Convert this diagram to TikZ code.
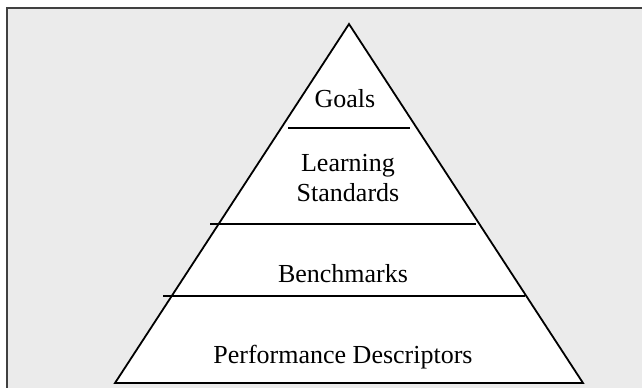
\documentclass[tikz,border=0pt]{standalone}
\usepackage{fontspec}
\setmainfont{Liberation Serif}
\usepackage{tikz}

\begin{document}
\begin{tikzpicture}[x=0.5pt, y=-0.5pt,
  frame/.style={draw=black!75, line width=1pt, fill=black!8},
  %
  pyramid/.style={draw=black, line width=0.9pt, fill=white, line join=miter},
  %
  tier/.style={draw=black, line width=0.9pt},
  %
  label/.style={font=\fontsize{13pt}{15pt}\selectfont, inner sep=0pt,
    align=center, anchor=base}
  ]

  \useasboundingbox (0,0) rectangle (642,387);

  \begin{scope}
    \draw [frame] (7,8) rectangle (660,400);
  \end{scope}

  %%%%%%%%%%%%%%%%%%%%%%%%%%%%%%%
  \coordinate (apex) at (349,24);
  \coordinate (baseL) at (115,383);
  \coordinate (baseR) at (583,383);
  \draw [pyramid] (apex) -- (baseR) -- (baseL) -- cycle;

  %%%%%%%%%%%%%%%%%%%%%%%%%%%%%%%
  \coordinate (goalsL) at (288,128);
  \coordinate (goalsR) at (410,128);
  \coordinate (stdL) at (210,224);
  \coordinate (stdR) at (476,224);
  \coordinate (benchL) at (163,296);
  \coordinate (benchR) at (525,296);

  \begin{scope}
    \draw [tier] (goalsL) -- (goalsR);
    \draw [tier] (stdL) -- (stdR);
    \draw [tier] (benchL) -- (benchR);
  \end{scope}

  %%%%%%%%%%%%%%%%%%%%%%%%%%%%%%%
  \node [label] (goals) at (345,107) {Goals};
  \node [label, anchor=center] (standards) at (348,178) {Learning\\Standards};
  \node [label] (benchmarks) at (343,282) {Benchmarks};
  \node [label] (descriptors) at (343,363) {Performance Descriptors};

\end{tikzpicture}
\end{document}
